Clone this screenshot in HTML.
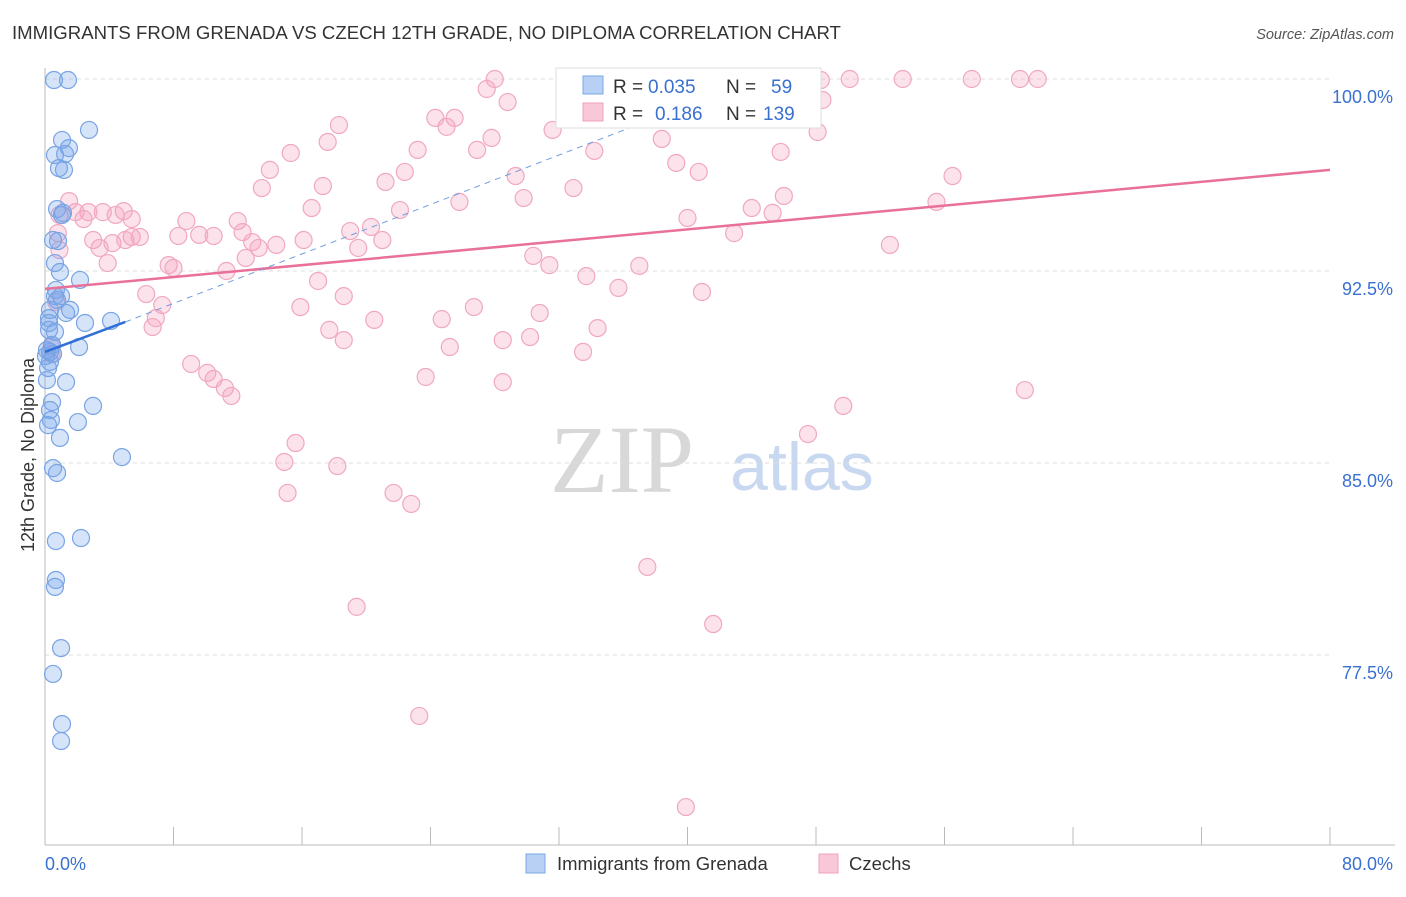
<!DOCTYPE html>
<html><head><meta charset="utf-8"><style>
body{margin:0;background:#fff;font-family:"Liberation Sans",sans-serif;}
#wrap{position:relative;width:1406px;height:892px;}
</style></head><body>
<div id="wrap">
<svg id="svg" width="1406" height="892" xmlns="http://www.w3.org/2000/svg">
<text x="12" y="39" font-size="18.6" fill="#333">IMMIGRANTS FROM GRENADA VS CZECH 12TH GRADE, NO DIPLOMA CORRELATION CHART</text>
<text x="1394" y="39" font-size="14.5" fill="#555" text-anchor="end" font-style="italic">Source: ZipAtlas.com</text>
<text x="0" y="0" transform="translate(34,455) rotate(-90)" font-size="18" fill="#333" text-anchor="middle">12th Grade, No Diploma</text>
<text x="622" y="492" font-size="96" fill="#d8d8d8" font-family="Liberation Serif,serif" text-anchor="middle">ZIP</text>
<text x="802" y="490" font-size="68" fill="#c8d8f0" text-anchor="middle">atlas</text>
<g id="grid"></g><g id="marks"></g><g id="lines"></g>
<g>
<rect x="556" y="68" width="265" height="60" fill="#fff" stroke="#ddd"/>
<rect x="583" y="76" width="20" height="18" fill="#b8d0f4" stroke="#7aa8e8"/>
<text x="613" y="93" font-size="19" fill="#333">R =</text>
<text x="648" y="93" font-size="19" fill="#3a70d0">0.035</text>
<text x="726" y="93" font-size="19" fill="#333">N =</text>
<text x="771" y="93" font-size="19" fill="#3a70d0">59</text>
<rect x="583" y="103" width="20" height="18" fill="#f8c8d8" stroke="#f0a0bc"/>
<text x="613" y="120" font-size="19" fill="#333">R =</text>
<text x="655" y="120" font-size="19" fill="#3a70d0">0.186</text>
<text x="726" y="120" font-size="19" fill="#333">N =</text>
<text x="763" y="120" font-size="19" fill="#3a70d0">139</text>
</g>
<g>
<rect x="526" y="854" width="19" height="19" fill="#b8d0f4" stroke="#7aa8e8"/>
<text x="557" y="870" font-size="18.5" fill="#333">Immigrants from Grenada</text>
<rect x="819" y="854" width="19" height="19" fill="#f8c8d8" stroke="#f0a0bc"/>
<text x="849" y="870" font-size="18.5" fill="#333">Czechs</text>
</g>
</svg></div>
<script>
const blueX=[.56,1.43,2.74,1.06,1.49,.62,1.25,.87,1.18,.75,1.12,.5,.81,.62,.93,2.18,.62,1,.75,.31,1.56,.25,.25,2.49,4.11,1.31,.25,.62,.44,2.12,.12,.31,.5,.06,.31,.19,1.31,2.99,.44,.31,.37,2.05,.93,4.79,.5,.75,.68,2.24,.68,.62,1,.5,1.06,1,.68,1.06,.12,.19,.44];
const blueY=[99.96,99.96,98.01,97.62,97.3,97.03,97.07,96.52,96.45,94.92,94.77,93.71,93.67,92.81,92.46,92.15,91.52,91.52,91.37,90.98,90.98,90.66,90.47,90.47,90.55,90.86,90.2,90.12,89.61,89.53,89.41,89.34,89.26,89.18,88.95,88.71,88.16,87.23,87.38,87.07,86.68,86.6,85.98,85.23,84.8,84.61,81.95,82.07,80.43,80.16,77.77,76.76,74.8,74.14,91.76,94.69,88.24,86.48,89.61];
const pinkX=[28,44.3,48.3,50.1,53.4,57.7,60.7,61.8,27.5,28.8,42.5,48.4,33.3,18.3,24.3,25.5,25,31.6,17.6,27.8,38.4,48.1,15.3,23.2,26.9,34.2,45.8,39.3,14,22.4,29.3,40.7,13.5,21.2,17.3,32.9,56.5,1.5,25.8,29.8,46,4.9,3.6,2.7,4.4,5.4,.9,1.9,2.4,16.6,22.1,44,45.3,55.5,40,8.8,12,5.4,8.3,9.6,10.5,12.3,19,20.3,3,3.4,4.2,5,5.9,12.9,16.1,14.4,13.3,21,42.9,52.6,19.5,12.5,30.4,31.4,3.9,7.7,8,11.3,37,33.7,17,35.7,40.9,6.3,18.6,7.3,15.9,26.7,30.8,6.9,6.7,20.5,24.7,17.7,34.4,18.6,28.5,30.2,25.2,33.5,9.1,10.1,10.5,11.2,11.6,23.7,28.5,61,49.7,47.5,15.6,14.9,18.2,15.1,21.7,22.8,37.5,19.4,41.6,23.3,39.9,.8,.9,.7,.4,.4];
const pinkY=[100,99.96,99.96,100,100,100,100,100,99.61,99.1,99.22,99.18,99.02,98.2,98.48,98.48,98.13,98.01,97.54,97.7,97.66,97.93,97.11,97.23,97.23,97.19,97.15,96.72,96.45,96.37,96.21,96.37,95.74,95.98,95.82,95.74,96.21,95.23,95.2,95.35,95.43,94.84,94.8,94.8,94.69,94.53,94.69,94.8,94.53,94.96,94.88,94.96,94.77,95.2,94.57,94.45,94.45,93.83,93.87,93.91,93.87,94.02,94.06,94.22,93.71,93.4,93.59,93.71,93.83,93.63,93.71,93.52,93.4,93.71,93.98,93.52,93.4,93.01,93.09,92.73,92.81,92.73,92.62,92.5,92.7,92.3,92.11,91.84,91.68,91.6,91.52,91.17,91.09,91.09,90.86,90.66,90.31,90.59,90.62,90.2,90.27,89.8,89.8,89.92,89.53,89.34,88.87,88.52,88.28,87.93,87.62,88.36,88.16,87.85,87.23,86.13,85.78,85.04,84.88,83.83,83.83,83.4,80.94,79.38,78.71,75.12,71.56,93.98,93.32,91.29,89.26,89.53];
const yTicks=[100,92.5,85,77.5];
const yTickLabels=["100.0%","92.5%","85.0%","77.5%"];
const xTicks=[0,8,16,24,32,40,48,56,64,72,80];
const pinkTrendX=[0,80],pinkTrendY=[91.8,96.45];
const blueTrendX=[0,5],blueTrendY=[89.34,90.51];
const blueDashX=[5,44.3],blueDashY=[90.51,100];
const NS="http://www.w3.org/2000/svg";
const sx=v=>45+v*1285/80, sy=v=>79+(100-v)*25.6;
function mk(t,a,p){const e=document.createElementNS(NS,t);for(const k in a)e.setAttribute(k,a[k]);p.appendChild(e);return e;}
const gridG=document.getElementById('grid'),marksG=document.getElementById('marks'),linesG=document.getElementById('lines');
yTicks.forEach((t,i)=>{
 const l=mk('line',{x1:45,x2:1330,y1:sy(t),y2:sy(t),stroke:'#ddd','stroke-dasharray':'4,4'},gridG);
 
 
 const tx=mk('text',{x:1393,y:sy(t)+24,'font-size':18,fill:'#3a70d0','text-anchor':'end'},gridG);
 tx.textContent=yTickLabels[i];
 
 
});
const topLine=mk('line',{x1:45,x2:1330,y1:79,y2:79,stroke:'#ddd','stroke-dasharray':'4,4'},gridG);


const xa=mk('line',{x1:45,x2:1395,y1:845,y2:845,stroke:'#bbb'},gridG);


const ya=mk('line',{x1:45,x2:45,y1:68,y2:845,stroke:'#bbb'},gridG);


xTicks.forEach(t=>{const l=mk('line',{x1:sx(t),x2:sx(t),y1:827,y2:845,stroke:'#bbb'},gridG);
 
 });
const xl0=mk('text',{x:45,y:870,'font-size':18,fill:'#3a70d0'},gridG);xl0.textContent='0.0%';


const xl1=mk('text',{x:1393,y:870,'font-size':18,fill:'#3a70d0','text-anchor':'end'},gridG);xl1.textContent='80.0%';


pinkX.forEach((x,i)=>{const c=mk('circle',{cx:sx(x),cy:sy(pinkY[i]),r:8.5,fill:'rgba(244,160,190,0.3)',stroke:'#f0a8c0','stroke-width':1.2},marksG);
 
 });
blueX.forEach((x,i)=>{const c=mk('circle',{cx:sx(x),cy:sy(blueY[i]),r:8.5,fill:'rgba(120,165,235,0.3)',stroke:'#78a4e4','stroke-width':1.2},marksG);
 
 });
const pl=mk('line',{x1:sx(pinkTrendX[0]),y1:sy(pinkTrendY[0]),x2:sx(pinkTrendX[1]),y2:sy(pinkTrendY[1]),stroke:'#e8709a','stroke-width':2.5},linesG);


const bl=mk('line',{x1:sx(blueTrendX[0]),y1:sy(blueTrendY[0]),x2:sx(blueTrendX[1]),y2:sy(blueTrendY[1]),stroke:'#2f6fd6','stroke-width':2.5},linesG);


const bd=mk('line',{x1:sx(blueDashX[0]),y1:sy(blueDashY[0]),x2:sx(blueDashX[1]),y2:sy(blueDashY[1]),stroke:'#6f9ee0','stroke-width':1,'stroke-dasharray':'6,5'},linesG);


</script>
</body></html>
